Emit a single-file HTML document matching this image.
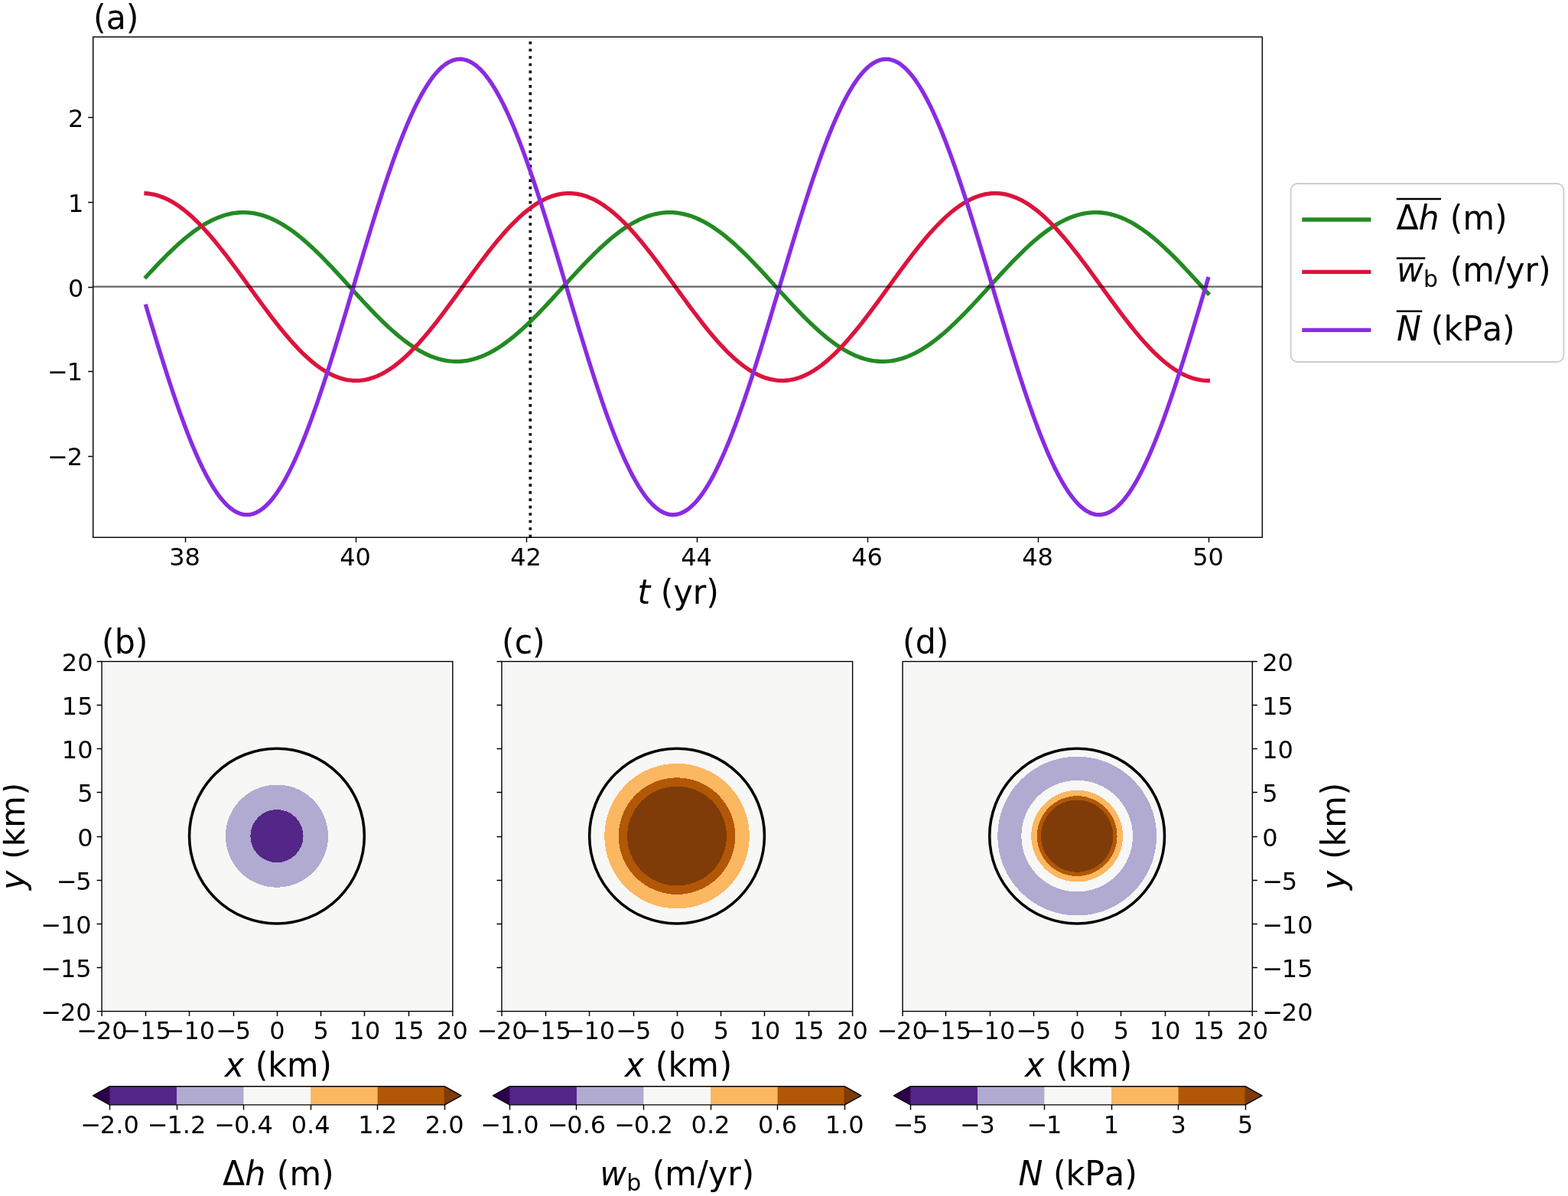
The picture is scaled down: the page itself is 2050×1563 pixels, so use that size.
<!DOCTYPE html>
<html lang="en">
<head>
<meta charset="utf-8">
<title>Subglacial lake oscillation figure</title>
<style>
html,body{margin:0;padding:0;background:#fff;}
body{width:2050px;height:1563px;overflow:hidden;}
svg{display:block;}
svg text{font-family:"DejaVu Sans", "Liberation Sans", sans-serif;fill:#000;font-kerning:none;}
</style>
</head>
<body>
<svg width="2050" height="1563" viewBox="0 0 2050 1563">
<rect x="0" y="0" width="2050" height="1563" fill="#ffffff"/>
<g id="panel-a">
<clipPath id="clipa"><rect x="121.7" y="48.3" width="1528.6" height="654"/></clipPath>
<g clip-path="url(#clipa)" fill="none">
<line x1="693.3" y1="702.3" x2="693.3" y2="48.3" stroke="#000" stroke-width="3.6" stroke-dasharray="3.58 5.898" stroke-dashoffset="0"/>
<polyline points="191.02,361.82 193.8,358.81 196.58,355.81 199.35,352.83 202.13,349.87 204.91,346.93 207.68,344.03 210.46,341.15 213.24,338.31 216.01,335.5 218.79,332.73 221.57,330.01 224.34,327.32 227.12,324.69 229.9,322.1 232.67,319.57 235.45,317.09 238.23,314.66 241,312.3 243.78,310 246.56,307.76 249.33,305.58 252.11,303.48 254.89,301.44 257.66,299.48 260.44,297.59 263.22,295.78 265.99,294.04 268.77,292.39 271.54,290.81 274.32,289.32 277.1,287.91 279.87,286.59 282.65,285.35 285.43,284.21 288.2,283.15 290.98,282.18 293.76,281.3 296.53,280.51 299.31,279.82 302.09,279.22 304.86,278.71 307.64,278.3 310.42,277.98 313.19,277.76 315.97,277.63 318.75,277.6 321.52,277.67 324.3,277.83 327.08,278.08 329.85,278.43 332.63,278.88 335.41,279.42 338.18,280.05 340.96,280.77 343.74,281.59 346.51,282.5 349.29,283.5 352.07,284.59 354.84,285.77 357.62,287.04 360.4,288.39 363.17,289.83 365.95,291.35 368.73,292.95 371.5,294.64 374.28,296.4 377.06,298.24 379.83,300.15 382.61,302.14 385.39,304.2 388.16,306.33 390.94,308.53 393.71,310.79 396.49,313.11 399.27,315.5 402.04,317.94 404.82,320.44 407.6,322.99 410.37,325.6 413.15,328.25 415.93,330.95 418.7,333.69 421.48,336.47 424.26,339.29 427.03,342.15 429.81,345.03 432.59,347.95 435.36,350.89 438.14,353.86 440.92,356.85 443.69,359.85 446.47,362.87 449.25,365.9 452.02,368.94 454.8,371.99 457.58,375.04 460.35,378.09 463.13,381.14 465.91,384.18 468.68,387.21 471.46,390.23 474.24,393.23 477.01,396.22 479.79,399.18 482.57,402.13 485.34,405.04 488.12,407.93 490.9,410.78 493.67,413.6 496.45,416.38 499.23,419.12 502,421.82 504.78,424.47 507.55,427.07 510.33,429.62 513.11,432.12 515.88,434.56 518.66,436.95 521.44,439.27 524.21,441.53 526.99,443.73 529.77,445.85 532.54,447.91 535.32,449.9 538.1,451.81 540.87,453.65 543.65,455.41 546.43,457.09 549.2,458.69 551.98,460.21 554.76,461.64 557.53,462.99 560.31,464.26 563.09,465.44 565.86,466.52 568.64,467.52 571.42,468.43 574.19,469.25 576.97,469.97 579.75,470.6 582.52,471.14 585.3,471.58 588.08,471.93 590.85,472.18 593.63,472.34 596.41,472.4 599.18,472.36 601.96,472.23 604.74,472.01 607.51,471.69 610.29,471.28 613.07,470.77 615.84,470.16 618.62,469.47 621.39,468.68 624.17,467.8 626.95,466.83 629.72,465.77 632.5,464.62 635.28,463.38 638.05,462.05 640.83,460.64 643.61,459.15 646.38,457.57 649.16,455.91 651.94,454.18 654.71,452.36 657.49,450.47 660.27,448.5 663.04,446.47 665.82,444.36 668.6,442.19 671.37,439.95 674.15,437.64 676.93,435.27 679.7,432.85 682.48,430.37 685.26,427.83 688.03,425.24 690.81,422.61 693.59,419.92 696.36,417.2 699.14,414.43 701.92,411.62 704.69,408.77 707.47,405.9 710.25,402.99 713.02,400.06 715.8,397.1 718.58,394.12 721.35,391.12 724.13,388.1 726.91,385.07 729.68,382.03 732.46,378.99 735.23,375.94 738.01,372.89 740.79,369.84 743.56,366.8 746.34,363.76 749.12,360.74 751.89,357.73 754.67,354.74 757.45,351.77 760.22,348.82 763,345.89 765.78,343 768.55,340.13 771.33,337.3 774.11,334.51 776.88,331.75 779.66,329.04 782.44,326.38 785.21,323.76 787.99,321.19 790.77,318.67 793.54,316.21 796.32,313.81 799.1,311.47 801.87,309.19 804.65,306.97 807.43,304.82 810.2,302.74 812.98,300.73 815.76,298.8 818.53,296.93 821.31,295.15 824.09,293.44 826.86,291.82 829.64,290.27 832.42,288.81 835.19,287.43 837.97,286.14 840.75,284.93 843.52,283.82 846.3,282.79 849.07,281.85 851.85,281.01 854.63,280.25 857.4,279.59 860.18,279.03 862.96,278.55 865.73,278.18 868.51,277.89 871.29,277.7 874.06,277.61 876.84,277.62 879.62,277.71 882.39,277.91 885.17,278.2 887.95,278.58 890.72,279.06 893.5,279.63 896.28,280.3 899.05,281.06 901.83,281.91 904.61,282.85 907.38,283.88 910.16,285.01 912.94,286.22 915.71,287.51 918.49,288.9 921.27,290.36 924.04,291.91 926.82,293.55 929.6,295.26 932.37,297.05 935.15,298.92 937.93,300.86 940.7,302.87 943.48,304.96 946.26,307.11 949.03,309.33 951.81,311.61 954.59,313.96 957.36,316.37 960.14,318.83 962.91,321.35 965.69,323.92 968.47,326.54 971.24,329.21 974.02,331.92 976.8,334.68 979.57,337.48 982.35,340.31 985.13,343.18 987.9,346.07 990.68,349 993.46,351.95 996.23,354.93 999.01,357.92 1001.79,360.93 1004.56,363.95 1007.34,366.99 1010.12,370.03 1012.89,373.08 1015.67,376.13 1018.45,379.18 1021.22,382.22 1024,385.26 1026.78,388.29 1029.55,391.3 1032.33,394.3 1035.11,397.28 1037.88,400.24 1040.66,403.17 1043.44,406.08 1046.21,408.95 1048.99,411.8 1051.77,414.6 1054.54,417.37 1057.32,420.09 1060.1,422.77 1062.87,425.41 1065.65,427.99 1068.43,430.52 1071.2,433 1073.98,435.42 1076.76,437.79 1079.53,440.09 1082.31,442.32 1085.08,444.49 1087.86,446.6 1090.64,448.63 1093.41,450.59 1096.19,452.48 1098.97,454.29 1101.74,456.02 1104.52,457.67 1107.3,459.24 1110.07,460.73 1112.85,462.14 1115.63,463.46 1118.4,464.69 1121.18,465.84 1123.96,466.89 1126.73,467.86 1129.51,468.73 1132.29,469.51 1135.06,470.21 1137.84,470.8 1140.62,471.3 1143.39,471.71 1146.17,472.03 1148.95,472.25 1151.72,472.37 1154.5,472.4 1157.28,472.33 1160.05,472.17 1162.83,471.91 1165.61,471.55 1168.38,471.1 1171.16,470.56 1173.94,469.93 1176.71,469.2 1179.49,468.38 1182.27,467.46 1185.04,466.46 1187.82,465.36 1190.6,464.18 1193.37,462.91 1196.15,461.56 1198.92,460.12 1201.7,458.59 1204.48,456.99 1207.25,455.3 1210.03,453.53 1212.81,451.69 1215.58,449.77 1218.36,447.78 1221.14,445.72 1223.91,443.59 1226.69,441.39 1229.47,439.13 1232.24,436.8 1235.02,434.41 1237.8,431.97 1240.57,429.47 1243.35,426.91 1246.13,424.31 1248.9,421.65 1251.68,418.95 1254.46,416.21 1257.23,413.43 1260.01,410.6 1262.79,407.75 1265.56,404.86 1268.34,401.94 1271.12,399 1273.89,396.03 1276.67,393.04 1279.45,390.04 1282.22,387.02 1285,383.99 1287.78,380.94 1290.55,377.9 1293.33,374.85 1296.11,371.8 1298.88,368.75 1301.66,365.71 1304.44,362.68 1307.21,359.66 1309.99,356.66 1312.76,353.67 1315.54,350.71 1318.32,347.77 1321.09,344.85 1323.87,341.97 1326.65,339.11 1329.42,336.3 1332.2,333.52 1334.98,330.78 1337.75,328.08 1340.53,325.43 1343.31,322.83 1346.08,320.28 1348.86,317.79 1351.64,315.35 1354.41,312.96 1357.19,310.64 1359.97,308.39 1362.74,306.19 1365.52,304.07 1368.3,302.01 1371.07,300.03 1373.85,298.12 1376.63,296.29 1379.4,294.53 1382.18,292.85 1384.96,291.25 1387.73,289.74 1390.51,288.3 1393.29,286.96 1396.06,285.7 1398.84,284.52 1401.62,283.44 1404.39,282.44 1407.17,281.54 1409.95,280.73 1412.72,280.01 1415.5,279.38 1418.28,278.85 1421.05,278.41 1423.83,278.06 1426.6,277.81 1429.38,277.66 1432.16,277.6 1434.93,277.64 1437.71,277.77 1440.49,278 1443.26,278.32 1446.04,278.74 1448.82,279.25 1451.59,279.86 1454.37,280.56 1457.15,281.35 1459.92,282.23 1462.7,283.21 1465.48,284.27 1468.25,285.43 1471.03,286.67 1473.81,288 1476.58,289.41 1479.36,290.91 1482.14,292.49 1484.91,294.15 1487.69,295.89 1490.47,297.71 1493.24,299.6 1496.02,301.57 1498.8,303.61 1501.57,305.72 1504.35,307.9 1507.13,310.14 1509.9,312.45 1512.68,314.81 1515.46,317.24 1518.23,319.72 1521.01,322.26 1523.79,324.85 1526.56,327.49 1529.34,330.18 1532.12,332.91 1534.89,335.68 1537.67,338.49 1540.44,341.33 1543.22,344.21 1546,347.12 1548.77,350.05 1551.55,353.01 1554.33,355.99 1557.1,359 1559.88,362.01 1562.66,365.04 1565.43,368.08 1568.21,371.12 1570.99,374.17 1573.76,377.22 1576.54,380.27 1579.32,383.31" stroke="#228b22" stroke-width="5.33" stroke-linecap="square" stroke-linejoin="round"/>
<polyline points="191.02,252.73 193.8,252.97 196.58,253.33 199.35,253.81 202.13,254.42 204.91,255.13 207.68,255.97 210.46,256.92 213.24,257.99 216.01,259.18 218.79,260.47 221.57,261.88 224.34,263.4 227.12,265.03 229.9,266.77 232.67,268.62 235.45,270.56 238.23,272.61 241,274.77 243.78,277.01 246.56,279.36 249.33,281.8 252.11,284.33 254.89,286.95 257.66,289.66 260.44,292.44 263.22,295.32 265.99,298.26 268.77,301.29 271.54,304.38 274.32,307.55 277.1,310.78 279.87,314.07 282.65,317.43 285.43,320.84 288.2,324.3 290.98,327.82 293.76,331.38 296.53,334.98 299.31,338.62 302.09,342.3 304.86,346.01 307.64,349.75 310.42,353.51 313.19,357.29 315.97,361.09 318.75,364.91 321.52,368.73 324.3,372.56 327.08,376.4 329.85,380.23 332.63,384.06 335.41,387.87 338.18,391.68 340.96,395.47 343.74,399.24 346.51,402.98 349.29,406.7 352.07,410.38 354.84,414.04 357.62,417.65 360.4,421.22 363.17,424.75 365.95,428.23 368.73,431.65 371.5,435.02 374.28,438.33 377.06,441.58 379.83,444.76 382.61,447.88 385.39,450.92 388.16,453.89 390.94,456.78 393.71,459.6 396.49,462.33 399.27,464.97 402.04,467.52 404.82,469.99 407.6,472.36 410.37,474.63 413.15,476.81 415.93,478.89 418.7,480.87 421.48,482.74 424.26,484.51 427.03,486.16 429.81,487.71 432.59,489.15 435.36,490.48 438.14,491.7 440.92,492.8 443.69,493.78 446.47,494.65 449.25,495.4 452.02,496.03 454.8,496.55 457.58,496.94 460.35,497.22 463.13,497.37 465.91,497.41 468.68,497.33 471.46,497.12 474.24,496.8 477.01,496.35 479.79,495.79 482.57,495.11 485.34,494.31 488.12,493.39 490.9,492.36 493.67,491.22 496.45,489.95 499.23,488.58 502,487.1 504.78,485.5 507.55,483.8 510.33,481.99 513.11,480.07 515.88,478.05 518.66,475.94 521.44,473.72 524.21,471.4 526.99,468.99 529.77,466.49 532.54,463.9 535.32,461.22 538.1,458.46 540.87,455.62 543.65,452.69 546.43,449.69 549.2,446.62 551.98,443.47 554.76,440.26 557.53,436.99 560.31,433.65 563.09,430.26 565.86,426.81 568.64,423.32 571.42,419.77 574.19,416.18 576.97,412.55 579.75,408.89 582.52,405.19 585.3,401.46 588.08,397.7 590.85,393.92 593.63,390.13 596.41,386.32 599.18,382.5 601.96,378.67 604.74,374.83 607.51,371 610.29,367.17 613.07,363.35 615.84,359.54 618.62,355.75 621.39,351.97 624.17,348.22 626.95,344.49 629.72,340.79 632.5,337.13 635.28,333.51 638.05,329.92 640.83,326.38 643.61,322.89 646.38,319.44 649.16,316.05 651.94,312.72 654.71,309.46 657.49,306.25 660.27,303.11 663.04,300.05 665.82,297.05 668.6,294.14 671.37,291.3 674.15,288.54 676.93,285.87 679.7,283.29 682.48,280.79 685.26,278.39 688.03,276.09 690.81,273.88 693.59,271.77 696.36,269.76 699.14,267.85 701.92,266.05 704.69,264.36 707.47,262.77 710.25,261.3 713.02,259.93 715.8,258.68 718.58,257.54 721.35,256.52 724.13,255.62 726.91,254.83 729.68,254.16 732.46,253.6 735.23,253.17 738.01,252.86 740.79,252.66 743.56,252.59 746.34,252.63 749.12,252.8 751.89,253.09 754.67,253.49 757.45,254.02 760.22,254.66 763,255.42 765.78,256.3 768.55,257.29 771.33,258.4 774.11,259.63 776.88,260.97 779.66,262.42 782.44,263.98 785.21,265.64 787.99,267.42 790.77,269.3 793.54,271.29 796.32,273.37 799.1,275.56 801.87,277.84 804.65,280.22 807.43,282.69 810.2,285.26 812.98,287.91 815.76,290.64 818.53,293.46 821.31,296.36 824.09,299.34 826.86,302.39 829.64,305.51 832.42,308.7 835.19,311.95 837.97,315.27 840.75,318.64 843.52,322.07 846.3,325.56 849.07,329.09 851.85,332.66 854.63,336.28 857.4,339.93 860.18,343.62 862.96,347.34 865.73,351.09 868.51,354.86 871.29,358.65 874.06,362.46 876.84,366.28 879.62,370.1 882.39,373.94 885.17,377.77 887.95,381.6 890.72,385.42 893.5,389.24 896.28,393.04 899.05,396.82 901.83,400.58 904.61,404.31 907.38,408.02 910.16,411.7 912.94,415.33 915.71,418.93 918.49,422.49 921.27,426 924.04,429.46 926.82,432.86 929.6,436.21 932.37,439.5 935.15,442.73 937.93,445.89 940.7,448.98 943.48,451.99 946.26,454.94 949.03,457.8 951.81,460.58 954.59,463.28 957.36,465.89 960.14,468.42 962.91,470.85 965.69,473.18 968.47,475.42 971.24,477.57 974.02,479.61 976.8,481.55 979.57,483.38 982.35,485.11 985.13,486.73 987.9,488.24 990.68,489.64 993.46,490.93 996.23,492.1 999.01,493.16 1001.79,494.11 1004.56,494.93 1007.34,495.64 1010.12,496.23 1012.89,496.7 1015.67,497.06 1018.45,497.29 1021.22,497.4 1024,497.39 1026.78,497.27 1029.55,497.02 1032.33,496.65 1035.11,496.17 1037.88,495.56 1040.66,494.84 1043.44,494 1046.21,493.04 1048.99,491.97 1051.77,490.78 1054.54,489.48 1057.32,488.06 1060.1,486.54 1062.87,484.9 1065.65,483.16 1068.43,481.31 1071.2,479.36 1073.98,477.31 1076.76,475.15 1079.53,472.9 1082.31,470.55 1085.08,468.11 1087.86,465.57 1090.64,462.95 1093.41,460.24 1096.19,457.45 1098.97,454.58 1101.74,451.63 1104.52,448.6 1107.3,445.5 1110.07,442.33 1112.85,439.1 1115.63,435.8 1118.4,432.45 1121.18,429.03 1123.96,425.57 1126.73,422.05 1129.51,418.49 1132.29,414.89 1135.06,411.24 1137.84,407.57 1140.62,403.85 1143.39,400.12 1146.17,396.35 1148.95,392.57 1151.72,388.77 1154.5,384.95 1157.28,381.13 1160.05,377.29 1162.83,373.46 1165.61,369.63 1168.38,365.8 1171.16,361.99 1173.94,358.18 1176.71,354.39 1179.49,350.63 1182.27,346.88 1185.04,343.16 1187.82,339.48 1190.6,335.83 1193.37,332.22 1196.15,328.65 1198.92,325.12 1201.7,321.65 1204.48,318.22 1207.25,314.86 1210.03,311.55 1212.81,308.3 1215.58,305.12 1218.36,302.01 1221.14,298.97 1223.91,296 1226.69,293.11 1229.47,290.3 1232.24,287.58 1235.02,284.94 1237.8,282.38 1240.57,279.92 1243.35,277.56 1246.13,275.28 1248.9,273.11 1251.68,271.04 1254.46,269.06 1257.23,267.19 1260.01,265.43 1262.79,263.78 1265.56,262.23 1268.34,260.79 1271.12,259.47 1273.89,258.26 1276.67,257.16 1279.45,256.18 1282.22,255.32 1285,254.57 1287.78,253.94 1290.55,253.44 1293.33,253.04 1296.11,252.77 1298.88,252.62 1301.66,252.59 1304.44,252.68 1307.21,252.89 1309.99,253.22 1312.76,253.67 1315.54,254.23 1318.32,254.92 1321.09,255.72 1323.87,256.64 1326.65,257.68 1329.42,258.83 1332.2,260.09 1334.98,261.47 1337.75,262.96 1340.53,264.56 1343.31,266.27 1346.08,268.08 1348.86,270 1351.64,272.02 1354.41,274.14 1357.19,276.37 1359.97,278.68 1362.74,281.1 1365.52,283.6 1368.3,286.2 1371.07,288.88 1373.85,291.64 1376.63,294.49 1379.4,297.42 1382.18,300.42 1384.96,303.5 1387.73,306.64 1390.51,309.86 1393.29,313.13 1396.06,316.47 1398.84,319.87 1401.62,323.31 1404.39,326.81 1407.17,330.36 1409.95,333.95 1412.72,337.58 1415.5,341.25 1418.28,344.95 1421.05,348.68 1423.83,352.44 1426.6,356.22 1429.38,360.01 1432.16,363.82 1434.93,367.65 1437.71,371.47 1440.49,375.31 1443.26,379.14 1446.04,382.97 1448.82,386.79 1451.59,390.6 1454.37,394.39 1457.15,398.17 1459.92,401.92 1462.7,405.65 1465.48,409.34 1468.25,413 1471.03,416.63 1473.81,420.21 1476.58,423.75 1479.36,427.24 1482.14,430.68 1484.91,434.07 1487.69,437.4 1490.47,440.66 1493.24,443.87 1496.02,447 1498.8,450.07 1501.57,453.06 1504.35,455.97 1507.13,458.81 1509.9,461.56 1512.68,464.23 1515.46,466.81 1518.23,469.3 1521.01,471.69 1523.79,474 1526.56,476.2 1529.34,478.31 1532.12,480.32 1534.89,482.22 1537.67,484.01 1540.44,485.7 1543.22,487.29 1546,488.76 1548.77,490.12 1551.55,491.36 1554.33,492.5 1557.1,493.51 1559.88,494.42 1562.66,495.2 1565.43,495.87 1568.21,496.41 1570.99,496.84 1573.76,497.15 1576.54,497.34 1579.32,497.41" stroke="#dc143c" stroke-width="5.33" stroke-linecap="square" stroke-linejoin="round"/>
<polyline points="191.02,400.41 193.8,409.69 196.58,418.93 199.35,428.13 202.13,437.27 204.91,446.36 207.68,455.37 210.46,464.31 213.24,473.16 216.01,481.91 218.79,490.56 221.57,499.09 224.34,507.51 227.12,515.79 229.9,523.93 232.67,531.93 235.45,539.78 238.23,547.46 241,554.98 243.78,562.31 246.56,569.47 249.33,576.43 252.11,583.2 254.89,589.76 257.66,596.11 260.44,602.24 263.22,608.15 265.99,613.84 268.77,619.29 271.54,624.5 274.32,629.46 277.1,634.17 279.87,638.64 282.65,642.84 285.43,646.78 288.2,650.45 290.98,653.85 293.76,656.98 296.53,659.84 299.31,662.41 302.09,664.7 304.86,666.71 307.64,668.43 310.42,669.87 313.19,671.01 315.97,671.87 318.75,672.43 321.52,672.7 324.3,672.68 327.08,672.37 329.85,671.77 332.63,670.87 335.41,669.69 338.18,668.21 340.96,666.45 343.74,664.41 346.51,662.08 349.29,659.46 352.07,656.57 354.84,653.41 357.62,649.97 360.4,646.26 363.17,642.28 365.95,638.04 368.73,633.55 371.5,628.8 374.28,623.8 377.06,618.56 379.83,613.08 382.61,607.36 385.39,601.42 388.16,595.26 390.94,588.87 393.71,582.28 396.49,575.49 399.27,568.5 402.04,561.32 404.82,553.96 407.6,546.42 410.37,538.72 413.15,530.85 415.93,522.83 418.7,514.67 421.48,506.37 424.26,497.94 427.03,489.39 429.81,480.72 432.59,471.96 435.36,463.09 438.14,454.15 440.92,445.12 443.69,436.03 446.47,426.87 449.25,417.67 452.02,408.42 454.8,399.14 457.58,389.84 460.35,380.52 463.13,371.2 465.91,361.88 468.68,352.57 471.46,343.29 474.24,334.04 477.01,324.82 479.79,315.66 482.57,306.55 485.34,297.51 488.12,288.55 490.9,279.67 493.67,270.89 496.45,262.21 499.23,253.63 502,245.18 504.78,236.86 507.55,228.67 510.33,220.62 513.11,212.72 515.88,204.99 518.66,197.42 521.44,190.02 524.21,182.81 526.99,175.78 529.77,168.95 532.54,162.33 535.32,155.91 538.1,149.7 540.87,143.72 543.65,137.96 546.43,132.44 549.2,127.15 551.98,122.11 554.76,117.31 557.53,112.77 560.31,108.48 563.09,104.46 565.86,100.7 568.64,97.21 571.42,93.99 574.19,91.05 576.97,88.39 579.75,86 582.52,83.9 585.3,82.09 588.08,80.56 590.85,79.32 593.63,78.38 596.41,77.72 599.18,77.35 601.96,77.28 604.74,77.5 607.51,78.01 610.29,78.81 613.07,79.9 615.84,81.28 618.62,82.95 621.39,84.91 624.17,87.15 626.95,89.67 629.72,92.47 632.5,95.55 635.28,98.9 638.05,102.52 640.83,106.41 643.61,110.57 646.38,114.98 649.16,119.65 651.94,124.57 654.71,129.73 657.49,135.14 660.27,140.78 663.04,146.65 665.82,152.74 668.6,159.05 671.37,165.58 674.15,172.31 676.93,179.23 679.7,186.35 682.48,193.66 685.26,201.14 688.03,208.79 690.81,216.61 693.59,224.58 696.36,232.7 699.14,240.96 701.92,249.34 704.69,257.86 707.47,266.48 710.25,275.22 713.02,284.05 715.8,292.97 718.58,301.97 721.35,311.05 724.13,320.18 726.91,329.37 729.68,338.61 732.46,347.88 735.23,357.17 738.01,366.49 740.79,375.81 743.56,385.13 746.34,394.44 749.12,403.73 751.89,413 754.67,422.23 757.45,431.41 760.22,440.53 763,449.59 765.78,458.58 768.55,467.49 771.33,476.3 774.11,485.02 776.88,493.63 779.66,502.12 782.44,510.49 785.21,518.72 787.99,526.81 790.77,534.76 793.54,542.55 796.32,550.17 799.1,557.62 801.87,564.9 804.65,571.98 807.43,578.88 810.2,585.57 812.98,592.06 815.76,598.33 818.53,604.39 821.31,610.22 824.09,615.82 826.86,621.18 829.64,626.3 832.42,631.18 835.19,635.8 837.97,640.17 840.75,644.28 843.52,648.12 846.3,651.7 849.07,655.01 851.85,658.04 854.63,660.79 857.4,663.26 860.18,665.45 862.96,667.36 865.73,668.98 868.51,670.31 871.29,671.35 874.06,672.1 876.84,672.56 879.62,672.73 882.39,672.6 885.17,672.19 887.95,671.48 890.72,670.48 893.5,669.19 896.28,667.62 899.05,665.75 901.83,663.6 904.61,661.17 907.38,658.46 910.16,655.47 912.94,652.21 915.71,648.67 918.49,644.86 921.27,640.79 924.04,636.46 926.82,631.88 929.6,627.04 932.37,621.95 935.15,616.62 937.93,611.06 940.7,605.26 943.48,599.24 946.26,593 949.03,586.54 951.81,579.88 954.59,573.01 957.36,565.95 960.14,558.71 962.91,551.28 965.69,543.68 968.47,535.92 971.24,528 974.02,519.92 976.8,511.71 979.57,503.36 982.35,494.89 985.13,486.3 987.9,477.6 990.68,468.79 993.46,459.9 996.23,450.93 999.01,441.87 1001.79,432.76 1004.56,423.58 1007.34,414.36 1010.12,405.1 1012.89,395.81 1015.67,386.51 1018.45,377.18 1021.22,367.86 1024,358.55 1026.78,349.25 1029.55,339.97 1032.33,330.73 1035.11,321.54 1037.88,312.39 1040.66,303.31 1043.44,294.3 1046.21,285.36 1048.99,276.52 1051.77,267.77 1054.54,259.12 1057.32,250.59 1060.1,242.19 1062.87,233.91 1065.65,225.77 1068.43,217.78 1071.2,209.94 1073.98,202.26 1076.76,194.75 1079.53,187.42 1082.31,180.27 1085.08,173.32 1087.86,166.56 1090.64,160 1093.41,153.66 1096.19,147.53 1098.97,141.63 1101.74,135.96 1104.52,130.52 1107.3,125.32 1110.07,120.36 1112.85,115.66 1115.63,111.2 1118.4,107.01 1121.18,103.08 1123.96,99.42 1126.73,96.03 1129.51,92.91 1132.29,90.06 1135.06,87.5 1137.84,85.22 1140.62,83.22 1143.39,81.51 1146.17,80.09 1148.95,78.95 1151.72,78.11 1154.5,77.55 1157.28,77.29 1160.05,77.32 1162.83,77.65 1165.61,78.26 1168.38,79.17 1171.16,80.36 1173.94,81.85 1176.71,83.62 1179.49,85.67 1182.27,88.02 1185.04,90.64 1187.82,93.54 1190.6,96.72 1193.37,100.17 1196.15,103.89 1198.92,107.87 1201.7,112.12 1204.48,116.62 1207.25,121.38 1210.03,126.39 1212.81,131.64 1215.58,137.13 1218.36,142.85 1221.14,148.8 1223.91,154.98 1226.69,161.36 1229.47,167.96 1232.24,174.76 1235.02,181.76 1237.8,188.95 1240.57,196.32 1243.35,203.86 1246.13,211.57 1248.9,219.44 1251.68,227.47 1254.46,235.64 1257.23,243.94 1260.01,252.38 1262.79,260.93 1265.56,269.6 1268.34,278.37 1271.12,287.23 1273.89,296.18 1276.67,305.21 1279.45,314.31 1282.22,323.47 1285,332.67 1287.78,341.92 1290.55,351.2 1293.33,360.5 1296.11,369.82 1298.88,379.15 1301.66,388.46 1304.44,397.77 1307.21,407.05 1309.99,416.31 1312.76,425.52 1315.54,434.68 1318.32,443.78 1321.09,452.82 1323.87,461.78 1326.65,470.65 1329.42,479.43 1332.2,488.11 1334.98,496.68 1337.75,505.13 1340.53,513.45 1343.31,521.63 1346.08,529.68 1348.86,537.56 1351.64,545.29 1354.41,552.86 1357.19,560.25 1359.97,567.45 1362.74,574.47 1365.52,581.29 1368.3,587.91 1371.07,594.33 1373.85,600.52 1376.63,606.5 1379.4,612.25 1382.18,617.76 1384.96,623.04 1387.73,628.07 1390.51,632.86 1393.29,637.39 1396.06,641.67 1398.84,645.69 1401.62,649.43 1404.39,652.91 1407.17,656.12 1409.95,659.05 1412.72,661.71 1415.5,664.08 1418.28,666.17 1421.05,667.97 1423.83,669.49 1426.6,670.72 1429.38,671.65 1432.16,672.3 1434.93,672.65 1437.71,672.72 1440.49,672.49 1443.26,671.97 1446.04,671.16 1448.82,670.05 1451.59,668.66 1454.37,666.98 1457.15,665.02 1459.92,662.77 1462.7,660.23 1465.48,657.42 1468.25,654.33 1471.03,650.97 1473.81,647.34 1476.58,643.44 1479.36,639.27 1482.14,634.85 1484.91,630.17 1487.69,625.24 1490.47,620.07 1493.24,614.66 1496.02,609.01 1498.8,603.13 1501.57,597.03 1504.35,590.71 1507.13,584.18 1509.9,577.44 1512.68,570.51 1515.46,563.38 1518.23,556.07 1521.01,548.58 1523.79,540.92 1526.56,533.1 1529.34,525.12 1532.12,517 1534.89,508.74 1537.67,500.34 1540.44,491.83 1543.22,483.19 1546,474.46 1548.77,465.62 1551.55,456.7 1554.33,447.69 1557.1,438.62 1559.88,429.48 1562.66,420.29 1565.43,411.05 1568.21,401.78 1570.99,392.48 1573.76,383.17 1576.54,373.85 1579.32,364.53" stroke="#8a2be2" stroke-width="5.33" stroke-linecap="square" stroke-linejoin="round"/>
<line x1="121.7" y1="374.65" x2="1650.3" y2="374.65" stroke="#000" stroke-opacity="0.6" stroke-width="2.3"/>
</g>
<path d="M242.5 702.3v6.5M465.5 702.3v6.5M688.5 702.3v6.5M911.5 702.3v6.5M1134.5 702.3v6.5M1357.5 702.3v6.5M1580.5 702.3v6.5M121.7 596.5h-6.5M121.7 485.5h-6.5M121.7 375.5h-6.5M121.7 264.5h-6.5M121.7 153.5h-6.5" stroke="#000" stroke-width="1.42" fill="none"/>
<rect x="121.7" y="48.3" width="1528.6" height="654" fill="none" stroke="#000" stroke-width="1.42"/>
<text transform="translate(241.5 738.9) scale(1 1.022)" font-size="32" text-anchor="middle" >38</text>
<text transform="translate(464.5 738.9) scale(1 1.022)" font-size="32" text-anchor="middle" >40</text>
<text transform="translate(687.5 738.9) scale(1 1.022)" font-size="32" text-anchor="middle" >42</text>
<text transform="translate(910.5 738.9) scale(1 1.022)" font-size="32" text-anchor="middle" >44</text>
<text transform="translate(1133.5 738.9) scale(1 1.022)" font-size="32" text-anchor="middle" >46</text>
<text transform="translate(1356.5 738.9) scale(1 1.022)" font-size="32" text-anchor="middle" >48</text>
<text transform="translate(1579.5 738.9) scale(1 1.022)" font-size="32" text-anchor="middle" >50</text>
<text transform="translate(108.06 607.66) scale(1 1.022)" font-size="32" text-anchor="end" >−<tspan dx="-1.2">2</tspan></text>
<text transform="translate(108.06 496.98) scale(1 1.022)" font-size="32" text-anchor="end" >−<tspan dx="-1.2">1</tspan></text>
<text transform="translate(109.26 387.5) scale(1 1.022)" font-size="32" text-anchor="end" >0</text>
<text transform="translate(109.26 276.82) scale(1 1.022)" font-size="32" text-anchor="end" >1</text>
<text transform="translate(109.26 166.14) scale(1 1.022)" font-size="32" text-anchor="end" >2</text>
<text transform="translate(122 37.6) scale(1 1.022)" font-size="42.67" text-anchor="start" >(a)</text>
<text transform="translate(886.7 788.6) scale(1 1.022)" font-size="42.67" text-anchor="middle"><tspan font-style="italic">t</tspan> (yr)</text>
</g>
<g id="legend">
<rect x="1687.6" y="240" width="356.8" height="233" rx="8.6" ry="8.6" fill="#ffffff" fill-opacity="0.8" stroke="#cccccc" stroke-width="1.78"/>
<line x1="1702.3" y1="287.0" x2="1792.4" y2="287.0" stroke="#228b22" stroke-width="5.33"/>
<line x1="1702.3" y1="355.3" x2="1792.4" y2="355.3" stroke="#dc143c" stroke-width="5.33"/>
<line x1="1702.3" y1="431.3" x2="1792.4" y2="431.3" stroke="#8a2be2" stroke-width="5.33"/>
<line x1="1825.8" y1="260.0" x2="1884.0" y2="260.0" stroke="#000" stroke-width="2.5"/>
<line x1="1825.8" y1="337.6" x2="1863.3" y2="337.6" stroke="#000" stroke-width="2.5"/>
<line x1="1825.8" y1="406.8" x2="1859.4" y2="406.8" stroke="#000" stroke-width="2.5"/>
<text transform="translate(1825.3999999999999 300) scale(1 1.022)" font-size="42.67" text-anchor="start">Δ<tspan font-style="italic">h</tspan><tspan dx="0.6"> (m)</tspan></text>
<text transform="translate(1826.0 368) scale(1 1.022)" font-size="42.67" text-anchor="start"><tspan font-style="italic">w</tspan><tspan font-size="29.9" dy="7">b</tspan><tspan dy="-7" dx="2.3"> (m/yr)</tspan></text>
<text transform="translate(1826.0 445) scale(1 1.022)" font-size="42.67" text-anchor="start"><tspan font-style="italic">N</tspan><tspan dx="-0.6"> (kPa)</tspan></text>
</g>
<g id="panel-b">
<rect x="135.6" y="867.2" width="453.4" height="451.5" fill="#f7f7f6"/>
<circle cx="361.95" cy="1092.6" r="67.1" fill="#b1aad1" shape-rendering="crispEdges"/>
<circle cx="361.95" cy="1092.6" r="34.6" fill="#532687" shape-rendering="crispEdges"/>
<circle cx="361.95" cy="1092.6" r="114.4" fill="none" stroke="#000" stroke-width="3.56"/>
<path d="M133.1 1321.6v6.5M133.1 1321.6h-6.5M190.5 1321.6v6.5M133.1 1264.5h-6.5M247.5 1321.6v6.5M133.1 1207.5h-6.5M305.5 1321.6v6.5M133.1 1150.5h-6.5M362.5 1321.6v6.5M133.1 1093.5h-6.5M419.5 1321.6v6.5M133.1 1035.5h-6.5M476.5 1321.6v6.5M133.1 978.5h-6.5M534.5 1321.6v6.5M133.1 921.5h-6.5M591.8 1321.6v6.5M133.1 864.5h-6.5" stroke="#000" stroke-width="1.42" fill="none"/>
<rect x="133.1" y="864.5" width="458.7" height="457.1" fill="none" stroke="#000" stroke-width="1.42"/>
<text transform="translate(133.45 1358.2) scale(1 1.022)" font-size="32" text-anchor="middle" >−<tspan dx="-1.2">20</tspan></text>
<text transform="translate(119.6 1334.1) scale(1 1.022)" font-size="32" text-anchor="end" >−<tspan dx="-1.2">20</tspan></text>
<text transform="translate(190.7 1358.2) scale(1 1.022)" font-size="32" text-anchor="middle" >−<tspan dx="-1.2">15</tspan></text>
<text transform="translate(119.6 1276.96) scale(1 1.022)" font-size="32" text-anchor="end" >−<tspan dx="-1.2">15</tspan></text>
<text transform="translate(247.95 1358.2) scale(1 1.022)" font-size="32" text-anchor="middle" >−<tspan dx="-1.2">10</tspan></text>
<text transform="translate(119.6 1219.83) scale(1 1.022)" font-size="32" text-anchor="end" >−<tspan dx="-1.2">10</tspan></text>
<text transform="translate(305.2 1358.2) scale(1 1.022)" font-size="32" text-anchor="middle" >−<tspan dx="-1.2">5</tspan></text>
<text transform="translate(119.6 1162.69) scale(1 1.022)" font-size="32" text-anchor="end" >−<tspan dx="-1.2">5</tspan></text>
<text transform="translate(362.45 1358.2) scale(1 1.022)" font-size="32" text-anchor="middle" >0</text>
<text transform="translate(121.5 1105.55) scale(1 1.022)" font-size="32" text-anchor="end" >0</text>
<text transform="translate(419.7 1358.2) scale(1 1.022)" font-size="32" text-anchor="middle" >5</text>
<text transform="translate(121.5 1048.41) scale(1 1.022)" font-size="32" text-anchor="end" >5</text>
<text transform="translate(476.95 1358.2) scale(1 1.022)" font-size="32" text-anchor="middle" >10</text>
<text transform="translate(121.5 991.27) scale(1 1.022)" font-size="32" text-anchor="end" >10</text>
<text transform="translate(534.2 1358.2) scale(1 1.022)" font-size="32" text-anchor="middle" >15</text>
<text transform="translate(121.5 934.14) scale(1 1.022)" font-size="32" text-anchor="end" >15</text>
<text transform="translate(591.45 1358.2) scale(1 1.022)" font-size="32" text-anchor="middle" >20</text>
<text transform="translate(121.5 877) scale(1 1.022)" font-size="32" text-anchor="end" >20</text>
<text transform="translate(133.1 854) scale(1 1.022)" font-size="42.67" text-anchor="start" >(b)</text>
<text transform="translate(363.85 1407) scale(1 1.022)" font-size="42.67" text-anchor="middle"><tspan font-style="italic">x</tspan><tspan dx="1.2"> (km</tspan><tspan dx="0.8">)</tspan></text>
<clipPath id="clipyl"><rect x="3.8" y="900" width="120" height="400"/></clipPath>
<g clip-path="url(#clipyl)">
<text transform="translate(32.1 1092.95) rotate(-90) scale(1 1.022)" font-size="42.67" text-anchor="middle"><tspan font-style="italic">y</tspan><tspan dx="1.2"> (km</tspan><tspan dx="0.6">)</tspan></text>
</g>
<path d="M144.1 1419.7L143.5 1419.7L121.61 1431.8L143.5 1443.9L144.1 1443.9Z" fill="#2d004b"/>
<rect x="143.5" y="1419.7" width="87.84" height="24.2" fill="#532687"/>
<rect x="231.04" y="1419.7" width="87.84" height="24.2" fill="#b1aad1"/>
<rect x="318.58" y="1419.7" width="87.84" height="24.2" fill="#f7f7f6"/>
<rect x="406.12" y="1419.7" width="87.84" height="24.2" fill="#fcb761"/>
<rect x="493.66" y="1419.7" width="87.84" height="24.2" fill="#b25706"/>
<path d="M580.6 1419.7L581.2 1419.7L603.09 1431.8L581.2 1443.9L580.6 1443.9Z" fill="#7f3b08"/>
<path d="M143.5 1443.9v6.5M231.5 1443.9v6.5M318.5 1443.9v6.5M406.5 1443.9v6.5M493.5 1443.9v6.5M581.5 1443.9v6.5" stroke="#000" stroke-width="1.42" fill="none"/>
<path d="M143.5 1419.7L121.61 1431.8L143.5 1443.9L581.2 1443.9L603.09 1431.8L581.2 1419.7Z" fill="none" stroke="#000" stroke-width="1.42" stroke-linejoin="round"/>
<text transform="translate(143.5 1480.5) scale(1 1.022)" font-size="32" text-anchor="middle" >−<tspan dx="-1.2">2.0</tspan></text>
<text transform="translate(231.04 1480.5) scale(1 1.022)" font-size="32" text-anchor="middle" >−<tspan dx="-1.2">1.2</tspan></text>
<text transform="translate(318.58 1480.5) scale(1 1.022)" font-size="32" text-anchor="middle" >−<tspan dx="-1.2">0.4</tspan></text>
<text transform="translate(406.12 1480.5) scale(1 1.022)" font-size="32" text-anchor="middle" >0.4</text>
<text transform="translate(493.66 1480.5) scale(1 1.022)" font-size="32" text-anchor="middle" >1.2</text>
<text transform="translate(581.2 1480.5) scale(1 1.022)" font-size="32" text-anchor="middle" >2.0</text>
<text transform="translate(363.85 1548.6) scale(1 1.022)" font-size="42.67" text-anchor="middle">Δ<tspan font-style="italic">h</tspan><tspan dx="1.0"> (m)</tspan></text>
</g>
<g id="panel-c">
<rect x="658.7" y="867.2" width="453.4" height="451.5" fill="#f7f7f6"/>
<circle cx="885.05" cy="1092.6" r="94.8" fill="#fcb761" shape-rendering="crispEdges"/>
<circle cx="885.05" cy="1092.6" r="76.3" fill="#b25706" shape-rendering="crispEdges"/>
<circle cx="885.05" cy="1092.6" r="64.9" fill="#7f3b08" shape-rendering="crispEdges"/>
<circle cx="885.05" cy="1092.6" r="114.4" fill="none" stroke="#000" stroke-width="3.56"/>
<path d="M656 1321.6v6.5M656 1321.6h-6.5M713.5 1321.6v6.5M656 1264.5h-6.5M770.5 1321.6v6.5M656 1207.5h-6.5M828.5 1321.6v6.5M656 1150.5h-6.5M885.5 1321.6v6.5M656 1093.5h-6.5M942.5 1321.6v6.5M656 1035.5h-6.5M999.5 1321.6v6.5M656 978.5h-6.5M1057.5 1321.6v6.5M656 921.5h-6.5M1114.6 1321.6v6.5M656 864.5h-6.5" stroke="#000" stroke-width="1.42" fill="none"/>
<rect x="656" y="864.5" width="458.6" height="457.1" fill="none" stroke="#000" stroke-width="1.42"/>
<text transform="translate(656.55 1358.2) scale(1 1.022)" font-size="32" text-anchor="middle" >−<tspan dx="-1.2">20</tspan></text>
<text transform="translate(713.8 1358.2) scale(1 1.022)" font-size="32" text-anchor="middle" >−<tspan dx="-1.2">15</tspan></text>
<text transform="translate(771.05 1358.2) scale(1 1.022)" font-size="32" text-anchor="middle" >−<tspan dx="-1.2">10</tspan></text>
<text transform="translate(828.3 1358.2) scale(1 1.022)" font-size="32" text-anchor="middle" >−<tspan dx="-1.2">5</tspan></text>
<text transform="translate(885.55 1358.2) scale(1 1.022)" font-size="32" text-anchor="middle" >0</text>
<text transform="translate(942.8 1358.2) scale(1 1.022)" font-size="32" text-anchor="middle" >5</text>
<text transform="translate(1000.05 1358.2) scale(1 1.022)" font-size="32" text-anchor="middle" >10</text>
<text transform="translate(1057.3 1358.2) scale(1 1.022)" font-size="32" text-anchor="middle" >15</text>
<text transform="translate(1114.55 1358.2) scale(1 1.022)" font-size="32" text-anchor="middle" >20</text>
<text transform="translate(656 854) scale(1 1.022)" font-size="42.67" text-anchor="start" >(c)</text>
<text transform="translate(886.95 1407) scale(1 1.022)" font-size="42.67" text-anchor="middle"><tspan font-style="italic">x</tspan><tspan dx="1.2"> (km</tspan><tspan dx="0.8">)</tspan></text>
<path d="M667 1419.7L666.4 1419.7L644.51 1431.8L666.4 1443.9L667 1443.9Z" fill="#2d004b"/>
<rect x="666.4" y="1419.7" width="87.84" height="24.2" fill="#532687"/>
<rect x="753.94" y="1419.7" width="87.84" height="24.2" fill="#b1aad1"/>
<rect x="841.48" y="1419.7" width="87.84" height="24.2" fill="#f7f7f6"/>
<rect x="929.02" y="1419.7" width="87.84" height="24.2" fill="#fcb761"/>
<rect x="1016.56" y="1419.7" width="87.84" height="24.2" fill="#b25706"/>
<path d="M1103.5 1419.7L1104.1 1419.7L1125.98 1431.8L1104.1 1443.9L1103.5 1443.9Z" fill="#7f3b08"/>
<path d="M666.5 1443.9v6.5M753.5 1443.9v6.5M841.5 1443.9v6.5M929.5 1443.9v6.5M1016.5 1443.9v6.5M1104.5 1443.9v6.5" stroke="#000" stroke-width="1.42" fill="none"/>
<path d="M666.4 1419.7L644.51 1431.8L666.4 1443.9L1104.1 1443.9L1125.98 1431.8L1104.1 1419.7Z" fill="none" stroke="#000" stroke-width="1.42" stroke-linejoin="round"/>
<text transform="translate(666.4 1480.5) scale(1 1.022)" font-size="32" text-anchor="middle" >−<tspan dx="-1.2">1.0</tspan></text>
<text transform="translate(753.94 1480.5) scale(1 1.022)" font-size="32" text-anchor="middle" >−<tspan dx="-1.2">0.6</tspan></text>
<text transform="translate(841.48 1480.5) scale(1 1.022)" font-size="32" text-anchor="middle" >−<tspan dx="-1.2">0.2</tspan></text>
<text transform="translate(929.02 1480.5) scale(1 1.022)" font-size="32" text-anchor="middle" >0.2</text>
<text transform="translate(1016.56 1480.5) scale(1 1.022)" font-size="32" text-anchor="middle" >0.6</text>
<text transform="translate(1104.1 1480.5) scale(1 1.022)" font-size="32" text-anchor="middle" >1.0</text>
<text transform="translate(885.25 1548.6) scale(1 1.022)" font-size="42.67" text-anchor="middle"><tspan font-style="italic">w</tspan><tspan font-size="29.9" dy="7">b</tspan><tspan dy="-7" dx="1.0"> (m</tspan><tspan dx="0.7">/yr</tspan><tspan dx="0.8">)</tspan></text>
</g>
<g id="panel-d">
<rect x="1181.8" y="867.2" width="453.4" height="451.5" fill="#f7f7f6"/>
<circle cx="1408.15" cy="1092.6" r="103.9" fill="#b1aad1" shape-rendering="crispEdges"/>
<circle cx="1408.15" cy="1092.6" r="72.8" fill="#f7f7f6" shape-rendering="crispEdges"/>
<circle cx="1408.15" cy="1092.6" r="59.9" fill="#fcb761" shape-rendering="crispEdges"/>
<circle cx="1408.15" cy="1092.6" r="52.4" fill="#b25706" shape-rendering="crispEdges"/>
<circle cx="1408.15" cy="1092.6" r="47.1" fill="#7f3b08" shape-rendering="crispEdges"/>
<circle cx="1408.15" cy="1092.6" r="114.4" fill="none" stroke="#000" stroke-width="3.56"/>
<path d="M1180.1 1321.6v6.5M1637.3 1321.6h6.5M1236.5 1321.6v6.5M1637.3 1264.5h6.5M1294.5 1321.6v6.5M1637.3 1207.5h6.5M1351.5 1321.6v6.5M1637.3 1150.5h6.5M1408.5 1321.6v6.5M1637.3 1093.5h6.5M1465.5 1321.6v6.5M1637.3 1035.5h6.5M1523.5 1321.6v6.5M1637.3 978.5h6.5M1580.5 1321.6v6.5M1637.3 921.5h6.5M1637.3 1321.6v6.5M1637.3 864.5h6.5" stroke="#000" stroke-width="1.42" fill="none"/>
<rect x="1180.1" y="864.5" width="457.2" height="457.1" fill="none" stroke="#000" stroke-width="1.42"/>
<text transform="translate(1179.65 1358.2) scale(1 1.022)" font-size="32" text-anchor="middle" >−<tspan dx="-1.2">20</tspan></text>
<text transform="translate(1650.2 1334.1) scale(1 1.022)" font-size="32" text-anchor="start" >−<tspan dx="-1.2">20</tspan></text>
<text transform="translate(1236.9 1358.2) scale(1 1.022)" font-size="32" text-anchor="middle" >−<tspan dx="-1.2">15</tspan></text>
<text transform="translate(1650.2 1276.96) scale(1 1.022)" font-size="32" text-anchor="start" >−<tspan dx="-1.2">15</tspan></text>
<text transform="translate(1294.15 1358.2) scale(1 1.022)" font-size="32" text-anchor="middle" >−<tspan dx="-1.2">10</tspan></text>
<text transform="translate(1650.2 1219.83) scale(1 1.022)" font-size="32" text-anchor="start" >−<tspan dx="-1.2">10</tspan></text>
<text transform="translate(1351.4 1358.2) scale(1 1.022)" font-size="32" text-anchor="middle" >−<tspan dx="-1.2">5</tspan></text>
<text transform="translate(1650.2 1162.69) scale(1 1.022)" font-size="32" text-anchor="start" >−<tspan dx="-1.2">5</tspan></text>
<text transform="translate(1408.65 1358.2) scale(1 1.022)" font-size="32" text-anchor="middle" >0</text>
<text transform="translate(1650.2 1105.55) scale(1 1.022)" font-size="32" text-anchor="start" >0</text>
<text transform="translate(1465.9 1358.2) scale(1 1.022)" font-size="32" text-anchor="middle" >5</text>
<text transform="translate(1650.2 1048.41) scale(1 1.022)" font-size="32" text-anchor="start" >5</text>
<text transform="translate(1523.15 1358.2) scale(1 1.022)" font-size="32" text-anchor="middle" >10</text>
<text transform="translate(1650.2 991.27) scale(1 1.022)" font-size="32" text-anchor="start" >10</text>
<text transform="translate(1580.4 1358.2) scale(1 1.022)" font-size="32" text-anchor="middle" >15</text>
<text transform="translate(1650.2 934.14) scale(1 1.022)" font-size="32" text-anchor="start" >15</text>
<text transform="translate(1637.65 1358.2) scale(1 1.022)" font-size="32" text-anchor="middle" >20</text>
<text transform="translate(1650.2 877) scale(1 1.022)" font-size="32" text-anchor="start" >20</text>
<text transform="translate(1180.1 854) scale(1 1.022)" font-size="42.67" text-anchor="start" >(d)</text>
<text transform="translate(1410.05 1407) scale(1 1.022)" font-size="42.67" text-anchor="middle"><tspan font-style="italic">x</tspan><tspan dx="1.2"> (km</tspan><tspan dx="0.8">)</tspan></text>
<text transform="translate(1758.8 1092.95) rotate(-90) scale(1 1.022)" font-size="42.67" text-anchor="middle"><tspan font-style="italic">y</tspan><tspan dx="1.2"> (km</tspan><tspan dx="0.6">)</tspan></text>
<path d="M1191 1419.7L1190.4 1419.7L1168.52 1431.8L1190.4 1443.9L1191 1443.9Z" fill="#2d004b"/>
<rect x="1190.4" y="1419.7" width="87.84" height="24.2" fill="#532687"/>
<rect x="1277.94" y="1419.7" width="87.84" height="24.2" fill="#b1aad1"/>
<rect x="1365.48" y="1419.7" width="87.84" height="24.2" fill="#f7f7f6"/>
<rect x="1453.02" y="1419.7" width="87.84" height="24.2" fill="#fcb761"/>
<rect x="1540.56" y="1419.7" width="87.84" height="24.2" fill="#b25706"/>
<path d="M1627.5 1419.7L1628.1 1419.7L1649.99 1431.8L1628.1 1443.9L1627.5 1443.9Z" fill="#7f3b08"/>
<path d="M1190.5 1443.9v6.5M1277.5 1443.9v6.5M1365.5 1443.9v6.5M1453.5 1443.9v6.5M1540.5 1443.9v6.5M1628.5 1443.9v6.5" stroke="#000" stroke-width="1.42" fill="none"/>
<path d="M1190.4 1419.7L1168.52 1431.8L1190.4 1443.9L1628.1 1443.9L1649.99 1431.8L1628.1 1419.7Z" fill="none" stroke="#000" stroke-width="1.42" stroke-linejoin="round"/>
<text transform="translate(1190.4 1480.5) scale(1 1.022)" font-size="32" text-anchor="middle" >−<tspan dx="-1.2">5</tspan></text>
<text transform="translate(1277.94 1480.5) scale(1 1.022)" font-size="32" text-anchor="middle" >−<tspan dx="-1.2">3</tspan></text>
<text transform="translate(1365.48 1480.5) scale(1 1.022)" font-size="32" text-anchor="middle" >−<tspan dx="-1.2">1</tspan></text>
<text transform="translate(1453.02 1480.5) scale(1 1.022)" font-size="32" text-anchor="middle" >1</text>
<text transform="translate(1540.56 1480.5) scale(1 1.022)" font-size="32" text-anchor="middle" >3</text>
<text transform="translate(1628.1 1480.5) scale(1 1.022)" font-size="32" text-anchor="middle" >5</text>
<text transform="translate(1409.1 1548.6) scale(1 1.022)" font-size="42.67" text-anchor="middle"><tspan font-style="italic">N</tspan><tspan dx="0.1"> (kPa)</tspan></text>
</g>
</svg>
</body>
</html>
